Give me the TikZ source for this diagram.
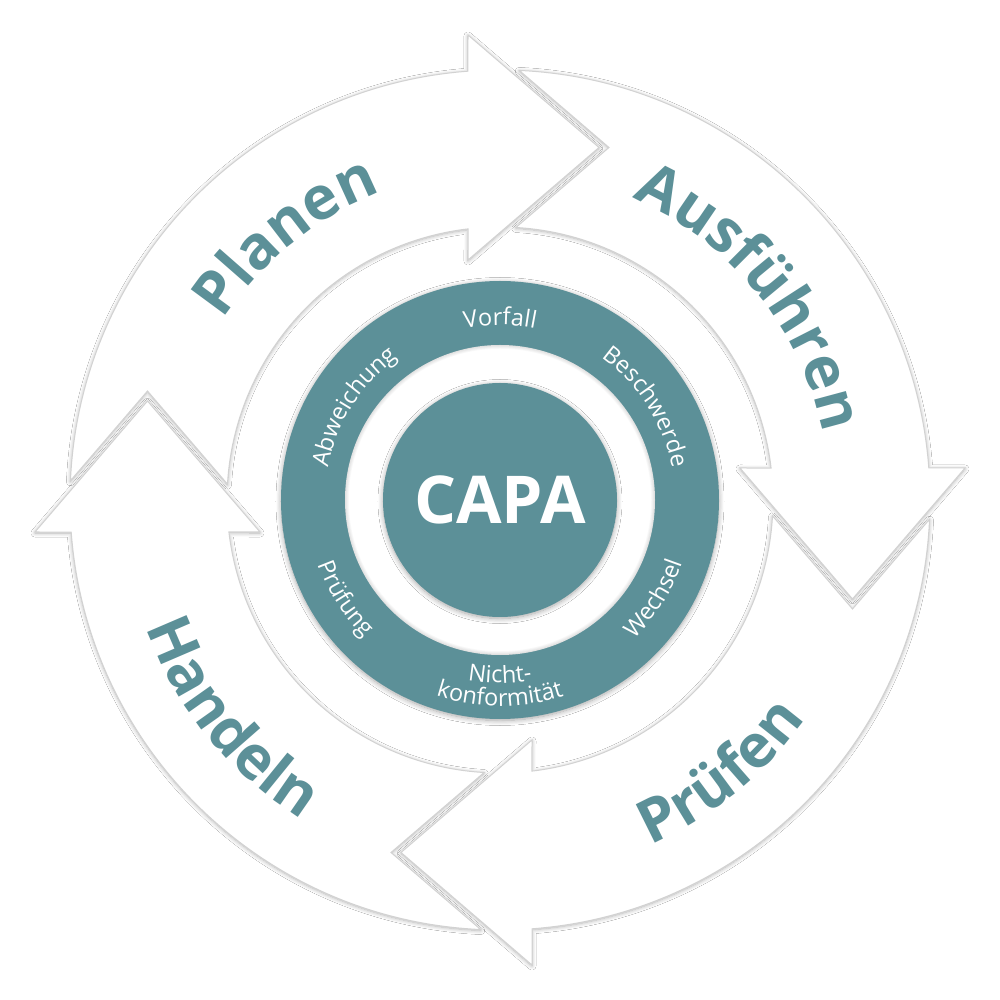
\documentclass[tikz,border=0pt]{standalone}
\usepackage{fontspec}
\setmainfont{Open Sans}
\usetikzlibrary{shadows.blur,decorations.text}
\definecolor{capateal}{RGB}{92,144,152}
\definecolor{arrowline}{RGB}{210,210,210}
\newcommand\capabig{\fontsize{60}{64}\selectfont\bfseries}
\newcommand\caparing{\fontsize{23.5}{26}\selectfont}
\begin{document}
\begin{tikzpicture}[x=1pt,y=1pt,
  cyclearrow/.style={fill=white, draw=arrowline, line width=1pt, line join=miter, miter limit=25,
    blur shadow={shadow xshift=0pt, shadow yshift=-1pt, shadow blur radius=4pt, shadow blur steps=10, shadow opacity=30}},
  tealdisk/.style={fill=capateal,
    blur shadow={shadow xshift=0pt, shadow yshift=-1.5pt, shadow blur radius=5pt, shadow blur steps=10, shadow opacity=35}},
  bigword/.style={decorate, decoration={text along path, text align=center, text color=capateal, text={|\capabig|#1}}},
  ringword/.style={decorate, decoration={text along path, text align=center, text color=white, text={|\caparing|#1}}},
]
\useasboundingbox (-500,-500) rectangle (500,500);
\fill[white] (-500,-500) rectangle (500,500);

% four curved arrows (Planen at top, then clockwise)
\foreach \k in {0,1,2,3} {
  \begin{scope}[rotate=-90*\k]
    \path[cyclearrow] (176.66:273) -- (-352.5,109) -- (177.43:430)
      arc[start angle=177.43, end angle=94.27, radius=430]
      -- (-32,465) -- (99,352.5) -- (-32,240) -- (96.73:273)
      arc[start angle=96.73, end angle=176.66, radius=273] -- cycle;
  \end{scope}
}

% teal ring
\path[tealdisk] (0,0) circle (219);
\fill[white] (0,0) circle (155);
\begin{scope}
  \clip (0,0) circle (155);
  \foreach \i in {1,...,5} \draw[black, opacity=0.025, line width=1.5*\i pt] (0,0) circle (155);
\end{scope}
\path[tealdisk] (0,0) circle (117);
\node[text=white, font=\fontsize{66}{70}\selectfont\bfseries] (capa) at (0,0) {CAPA};

% ring labels
\path[ringword=Vorfall] (130:175) arc[start angle=130, end angle=50, radius=175];
\path[ringword=Beschwerde] (72.5:175) arc[start angle=72.5, end angle=-7.5, radius=175];
\path[ringword=Abweichung] (187.5:175) arc[start angle=187.5, end angle=107.5, radius=175];
\path[ringword=Wechsel] (-72.5:193) arc[start angle=-72.5, end angle=7.5, radius=193];
\path[ringword=Prüfung] (-187.5:193) arc[start angle=-187.5, end angle=-107.5, radius=193];
\path[ringword=Nicht-] (-130:183) arc[start angle=-130, end angle=-50, radius=183];
\path[ringword=konformität] (-130:206) arc[start angle=-130, end angle=-50, radius=206];

% arrow labels
\path[bigword=Planen] (174:330) arc[start angle=174, end angle=84, radius=330];
\path[bigword=Ausführen] (94:330) arc[start angle=94, end angle=-16, radius=330];
\path[bigword=Prüfen] (-106:376) arc[start angle=-106, end angle=4, radius=376];
\path[bigword=Handeln] (164:376) arc[start angle=164, end angle=274, radius=376];
\end{tikzpicture}
\end{document}
